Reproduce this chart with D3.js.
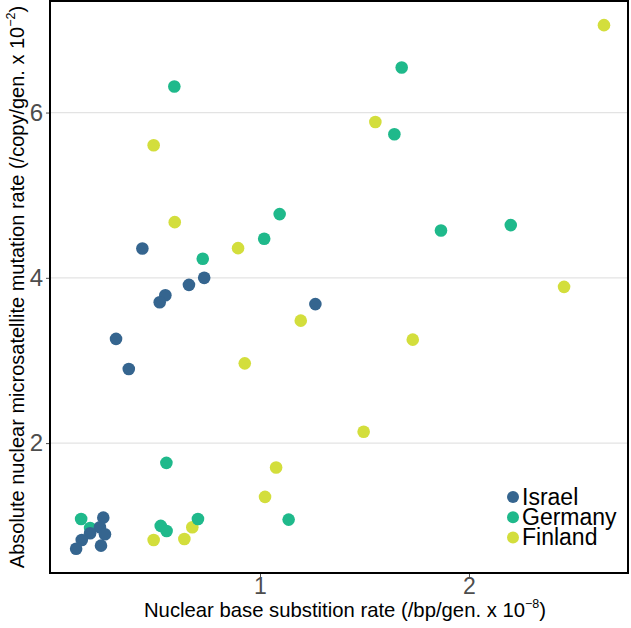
<!DOCTYPE html>
<html>
<head>
<meta charset="utf-8">
<script src="https://cdn.jsdelivr.net/npm/d3@7"></script>
<style>
  html, body { margin: 0; padding: 0; background: #fff; }
  svg { display: block; font-family: "Liberation Sans", Arial, sans-serif; }
</style>
</head>
<body>
<svg id="chart" width="631" height="628"></svg>
<script>
// ---- Data (x: nuclear base substitution rate x1e-8, y: microsatellite rate x1e-2)
const groups = ["Israel", "Germany", "Finland"];
const groupColors = ["#35658f", "#1fb98b", "#d3de3c"];

const israelX = [0.437, 0.733, 0.660, 0.547, 0.520, 0.311, 0.372, 1.265, 0.250, 0.234, 0.258, 0.187, 0.147, 0.120, 0.239];
const israelY = [4.355, 4.000, 3.915, 3.789, 3.704, 3.261, 2.897, 3.682, 1.098, 0.982, 0.897, 0.909, 0.828, 0.722, 0.759];

const germanyX = [0.590, 1.678, 1.643, 1.866, 2.200, 1.094, 1.020, 0.726, 0.552, 1.137, 0.703, 0.525, 0.553, 0.144, 0.187];
const germanyY = [6.315, 6.545, 5.737, 4.573, 4.638, 4.771, 4.473, 4.230, 1.761, 1.074, 1.082, 0.998, 0.937, 1.082, 0.973];

const finlandX = [2.646, 1.552, 0.491, 0.592, 0.895, 1.195, 1.731, 2.455, 0.927, 1.496, 1.077, 1.024, 0.676, 0.491, 0.638];
const finlandY = [7.058, 5.886, 5.604, 4.674, 4.359, 3.482, 3.252, 3.891, 2.965, 2.137, 1.704, 1.349, 0.982, 0.828, 0.840];

const xTicks = [1, 2];
const yTicks = [2, 4, 6];
const xDomain = [-0.005, 2.761];
const yDomain = [0.428, 7.35];

// build records (draw order: Finland, Germany, Israel)
const series = [
  { name: "Finland", xs: finlandX, ys: finlandY },
  { name: "Germany", xs: germanyX, ys: germanyY },
  { name: "Israel", xs: israelX, ys: israelY }
];
const points = [];
series.forEach(s => s.xs.forEach((v, i) => points.push({ group: s.name, x: v, y: s.ys[i] })));

// ---- Layout
const svg = d3.select("#chart");
const pLeft = 50, pRight = 628, pTop = 1, pBottom = 573;

const x = d3.scaleLinear().domain(xDomain).range([pLeft, pRight]);
const y = d3.scaleLinear().domain(yDomain).range([pBottom, pTop]);
const color = d3.scaleOrdinal().domain(groups).range(groupColors);

// gridlines
svg.append("g").selectAll("line").data(yTicks).join("line")
  .attr("x1", pLeft).attr("x2", pRight)
  .attr("y1", d => y(d)).attr("y2", d => y(d))
  .attr("stroke", "#e3e3e3").attr("stroke-width", 1.3);

// axes
const xAxis = svg.append("g").attr("transform", `translate(0,${pBottom})`)
  .call(d3.axisBottom(x).tickValues(xTicks).tickSize(4).tickPadding(1).tickFormat(d3.format("d")));
xAxis.select(".domain").remove();
xAxis.selectAll("line").attr("stroke", "#4d4d4d");
xAxis.selectAll("text").attr("fill", "#4d4d4d").attr("font-size", 23)
  .attr("font-family", "Liberation Sans, Arial, sans-serif");

const yAxis = svg.append("g").attr("transform", `translate(${pLeft},0)`)
  .call(d3.axisLeft(y).tickValues(yTicks).tickSize(4).tickPadding(3).tickFormat(d3.format("d")));
yAxis.select(".domain").remove();
yAxis.selectAll("line").attr("stroke", "#4d4d4d");
yAxis.selectAll("text").attr("fill", "#4d4d4d").attr("font-size", 24)
  .attr("font-family", "Liberation Sans, Arial, sans-serif");

// points
svg.append("g").selectAll("circle").data(points).join("circle")
  .attr("cx", d => x(d.x)).attr("cy", d => y(d.y))
  .attr("r", 6.3)
  .attr("fill", d => color(d.group));

// panel border
svg.append("rect")
  .attr("x", pLeft).attr("y", pTop)
  .attr("width", pRight - pLeft).attr("height", pBottom - pTop)
  .attr("fill", "none").attr("stroke", "#000").attr("stroke-width", 2);

// axis titles
const xt = svg.append("text")
  .attr("x", (pLeft + pRight) / 2 + 6).attr("y", 617)
  .attr("text-anchor", "middle").attr("font-size", 20.3).attr("fill", "#000");
xt.append("tspan").text("Nuclear base substition rate (/bp/gen. x 10");
xt.append("tspan").attr("font-size", 12.5).attr("dy", -9).text("\u22128");
xt.append("tspan").attr("dy", 9).text(")");

const yt = svg.append("text")
  .attr("transform", `translate(24,${(pTop + pBottom) / 2}) rotate(-90)`)
  .attr("text-anchor", "middle").attr("font-size", 20).attr("fill", "#000");
yt.append("tspan").text("Absolute nuclear microsatellite mutation rate (/copy/gen. x 10");
yt.append("tspan").attr("font-size", 12.5).attr("dy", -9).text("\u22122");
yt.append("tspan").attr("dy", 9).text(")");

// legend
const legend = svg.append("g").attr("transform", "translate(513,497)");
const items = legend.selectAll("g").data(groups).join("g")
  .attr("transform", (d, i) => `translate(0,${i * 20.2})`);
items.append("circle").attr("r", 6).attr("fill", d => color(d));
items.append("text").attr("x", 9).attr("y", 8).attr("font-size", 23).attr("fill", "#000").text(d => d);
</script>
</body>
</html>
